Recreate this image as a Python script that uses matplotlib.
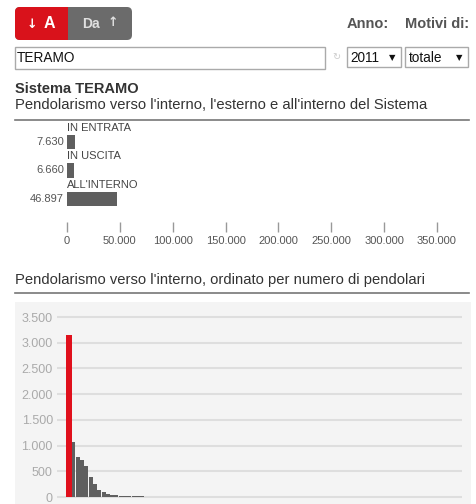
import numpy as np
import matplotlib
matplotlib.use('Agg')
import matplotlib.pyplot as plt
from matplotlib.patches import Rectangle, FancyBboxPatch
from matplotlib.ticker import FuncFormatter

plt.rcParams['font.family'] = ['Liberation Sans', 'DejaVu Sans']

# dati
categorie = ["IN ENTRATA", "IN USCITA", "ALL'INTERNO"]
valori = [7630, 6660, 46897]
etichette_val = ["7.630", "6.660", "46.897"]

# pendolari all'interno, ordinati (il primo e' il comune evidenziato)
pendolari = [3150, 1075, 772, 720, 609, 383, 247, 136, 91, 62,
             45, 34, 27, 22, 18, 15, 13, 11, 9, 8,
             7, 6, 5, 5, 4, 4, 3, 3, 3, 2,
             2, 2, 2, 2, 1, 1, 1, 1, 1, 1,
             1, 1, 1, 1, 1, 0, 0, 0, 0, 0,
             0, 0, 0, 0, 0, 0, 0, 0, 0, 0,
             0, 0, 0, 0, 0, 0, 0, 0, 0, 0,
             0, 0, 0, 0, 0, 0, 0, 0, 0, 0,
             0, 0, 0, 0, 0, 0, 0, 0, 0, 0,
             0, 0]

W, H = 477, 504
fig = plt.figure(figsize=(W/100, H/100), dpi=100)

def px(x0, y0, x1, y1):
    # rettangolo in pixel (origine in alto a sinistra) -> coordinate figura
    return [x0/W, 1 - y1/H, (x1-x0)/W, (y1-y0)/H]

# strato per l'interfaccia
ui = fig.add_axes([0, 0, 1, 1])
ui.set_xlim(0, W)
ui.set_ylim(H, 0)
ui.axis('off')

ui.add_patch(FancyBboxPatch((15, 7), 117, 33, boxstyle="round,pad=0,rounding_size=5",
                            fc='#6b6b6b', ec='none'))
ui.add_patch(FancyBboxPatch((15, 7), 60, 33, boxstyle="round,pad=0,rounding_size=5",
                            fc='#d9121b', ec='none'))
ui.add_patch(Rectangle((68, 7), 8, 33, fc='#6b6b6b', ec='none'))
ui.text(32, 24, "↓", color='white', fontsize=9, fontweight='bold', ha='center', va='center',
        family='DejaVu Sans')
ui.text(49, 24, "A", color='white', fontsize=11.5, fontweight='bold', ha='center', va='center')
ui.text(91, 24, "Da", color='#e0e0e0', fontsize=10, fontweight='bold', ha='center', va='center')
ui.text(113, 23, "↑", color='#e0e0e0', fontsize=9, fontweight='bold', ha='center', va='center',
        family='DejaVu Sans')

ui.text(347, 24, "Anno:", color='#555555', fontsize=10.5, fontweight='bold', va='center')
ui.text(405, 24, "Motivi di:", color='#555555', fontsize=10.5, fontweight='bold', va='center')

ui.add_patch(Rectangle((15, 47), 310, 22, fc='white', ec='#aaaaaa', lw=1))
ui.text(17, 58, "TERAMO", color='#111111', fontsize=9.8, va='center')
ui.text(336, 57, "↻", color='#cccccc', fontsize=7, ha='center', va='center')
ui.add_patch(Rectangle((347, 47), 54, 20, fc='white', ec='#aaaaaa', lw=1))
ui.text(350, 57.5, "2011", color='#111111', fontsize=9.8, va='center')
ui.text(392, 57.5, "▼", color='#111111', fontsize=6, va='center', ha='center',
        family='DejaVu Sans')
ui.add_patch(Rectangle((405, 47), 63, 20, fc='white', ec='#aaaaaa', lw=1))
ui.text(409, 57.5, "totale", color='#111111', fontsize=9.8, va='center')
ui.text(459, 57.5, "▼", color='#111111', fontsize=6, va='center', ha='center',
        family='DejaVu Sans')

ui.text(15, 89, "Sistema TERAMO", color='#333333', fontsize=10.5, fontweight='bold', va='center')
ui.text(15, 105, "Pendolarismo verso l'interno, l'esterno e all'interno del Sistema",
        color='#333333', fontsize=10.6, va='center')
ui.plot([15, 469], [120, 120], color='#777777', lw=1.2)

ui.text(15, 280, "Pendolarismo verso l'interno, ordinato per numero di pendolari",
        color='#333333', fontsize=10.6, va='center')
ui.plot([15, 469], [293, 293], color='#777777', lw=1.2)
ui.add_patch(Rectangle((15, 302), 456, 210, fc='#f4f4f4', ec='none'))

fmt = FuncFormatter(lambda v, p: f"{int(v):,}".replace(",", "."))

# grafico a barre orizzontali
ax = fig.add_axes(px(67, 120, 437, 232))
ax.patch.set_alpha(0)
pos = np.arange(len(valori))
ax.barh(pos, valori, height=0.5, color='#5f5f5f')
for i, (c, e) in enumerate(zip(categorie, etichette_val)):
    ax.text(0, i - 0.5, c, fontsize=8, color='#444444', va='center', ha='left')
    ax.text(-3000, i, e, fontsize=8, color='#555555', va='center', ha='right')
ax.set_xlim(0, 350000)
ax.set_ylim(3.158, -0.772)
ax.set_xticks(np.arange(0, 350001, 50000))
ax.xaxis.set_major_formatter(fmt)
ax.tick_params(axis='x', direction='in', length=7, width=1, color='#999999',
               labelsize=8, labelcolor='#555555', pad=3)
ax.set_yticks([])
for s in ax.spines.values():
    s.set_visible(False)

# istogramma ordinato
ax2 = fig.add_axes(px(57, 302, 462, 504))
ax2.patch.set_alpha(0)
x = np.arange(len(pendolari))
colori = ['#e0101c'] + ['#5f5f5f'] * (len(pendolari) - 1)
ax2.bar(x, pendolari, width=0.92, color=colori, zorder=3)
ax2.bar(x[:1], pendolari[:1], width=1.3, color='#e0101c', zorder=4)
ax2.set_xlim(-2.83, 91.4)
ax2.set_ylim(-136, 3792)
ax2.set_yticks(np.arange(0, 3501, 500))
ax2.yaxis.set_major_formatter(fmt)
ax2.grid(axis='y', color='#dedede', lw=1.5, zorder=0)
ax2.tick_params(axis='y', length=0, labelsize=9, labelcolor='#aaaaaa', pad=3)
ax2.set_xticks([])
for s in ax2.spines.values():
    s.set_visible(False)

fig.savefig('out.png', dpi=100)
